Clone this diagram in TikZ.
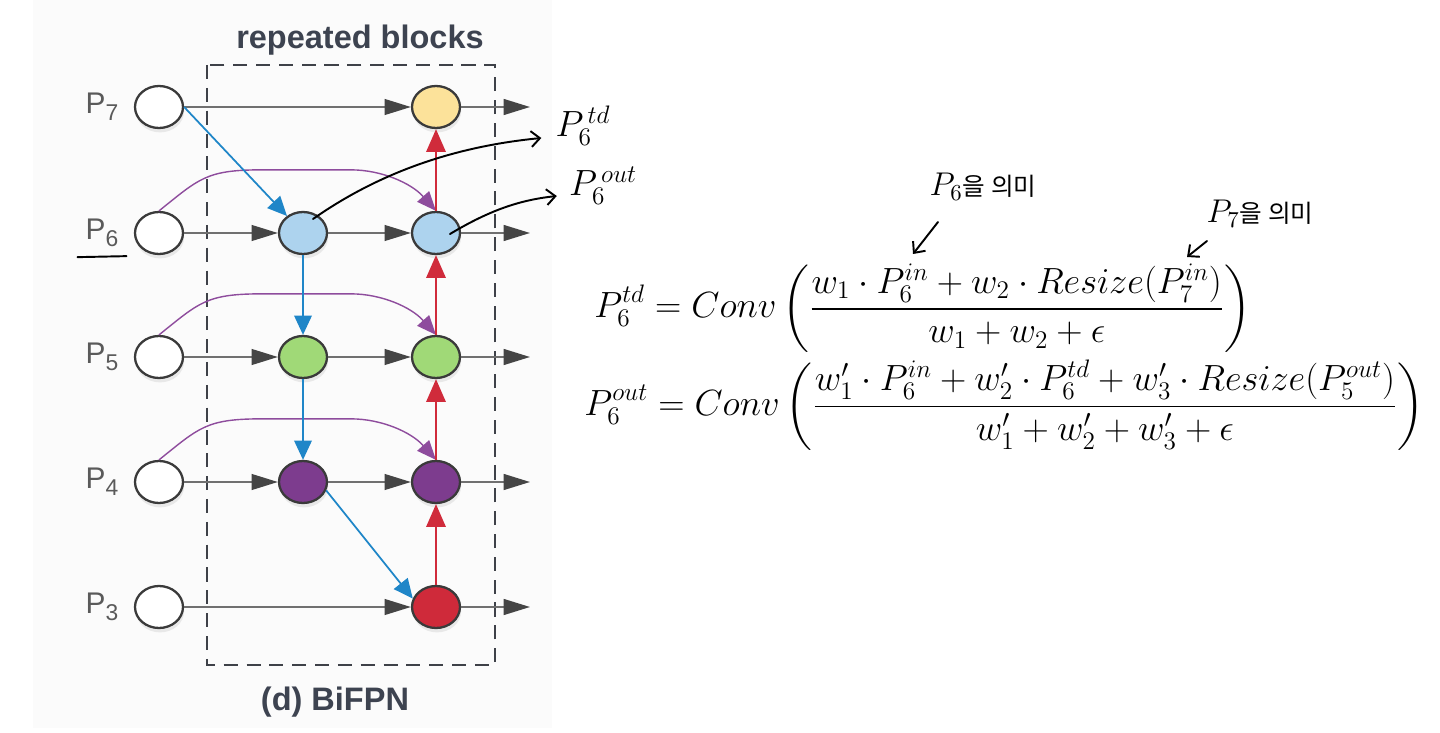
\documentclass[tikz,border=0pt]{standalone}
\usepackage[no-math]{fontspec}
\usepackage{amsmath}
\usetikzlibrary{arrows.meta, shadows, shapes.geometric, calc}
\newfontfamily\sansfont{Liberation Sans}
\newfontfamily\krfont{Noto Sans CJK KR}
\definecolor{panelbg}{HTML}{FBFBFB}
\definecolor{nodeborder}{HTML}{3A3A3A}
\definecolor{p7yellow}{HTML}{FCE29A}
\definecolor{p6blue}{HTML}{ADD3EE}
\definecolor{p5green}{HTML}{A0D977}
\definecolor{p4purple}{HTML}{7D3C8E}
\definecolor{p3red}{HTML}{CF2A3A}
\definecolor{flowgray}{HTML}{707070}
\definecolor{headgray}{HTML}{454545}
\definecolor{tdblue}{HTML}{1F86C8}
\definecolor{bured}{HTML}{D02B3B}
\definecolor{skippurple}{HTML}{8E4C9D}
\definecolor{boxgray}{HTML}{3E4148}
\definecolor{titlegray}{HTML}{3D4350}
\definecolor{labgray}{HTML}{5A5A5A}
\newcommand{\plevel}[1]{P\raisebox{-0.45ex}{\fontsize{13}{15}\selectfont #1}}
\newcommand{\handp}[1]{\scalebox{1.3}{$P_{#1}$}}
\tikzset{
  fpnode/.style={ellipse, draw=nodeborder, line width=1.3pt, minimum width=0.96cm, minimum height=0.84cm, inner sep=0pt,
    drop shadow={opacity=0.15, shadow xshift=0.6pt, shadow yshift=-2.5pt}},
  flow/.style={draw=flowgray, line width=1.1pt, -{Triangle[length=15pt, width=9pt, color=headgray]}},
  tdflow/.style={draw=tdblue, line width=1pt, -{Triangle[length=11pt, width=10pt]}},
  buflow/.style={draw=bured, line width=1.3pt, -{Triangle[length=13pt, width=11pt]}},
  skipflow/.style={draw=skippurple, line width=0.8pt, -{Triangle[length=11pt, width=9pt]}},
  hand/.style={black, line width=1.1pt, line cap=round, -{Straight Barb[length=5pt, width=9pt]}},
  plab/.style={font=\sansfont\fontsize{17}{20}\selectfont, text=labgray},
  heading/.style={font=\sansfont\bfseries\fontsize{18.5}{22}\selectfont, text=titlegray},
  korean/.style={font=\krfont\fontsize{14}{16}\selectfont, inner sep=0pt},
}

\begin{document}
\begin{tikzpicture}[x=0.02cm, y=-0.02cm]
  \useasboundingbox (0,0) rectangle (1440,733);
  \fill[white] (0,0) rectangle (1440,733);
  \fill[panelbg] (33,0) rectangle (552,728);

  % Bloque repetido
  \draw[boxgray, line width=1.6pt, dash pattern=on 8pt off 5pt] (207,65) rectangle (495,665);
  \node[heading] (title) at (360,40) {repeated blocks};
  \node[heading] (caption) at (335,702) {(d) BiFPN};

  % Niveles de entrada
  \foreach \lvl/\y in {7/107, 6/233, 5/357, 4/482, 3/607} {
    \node[plab] (l\lvl) at (102,\y) {\plevel{\lvl}};
    \node[fpnode, fill=white] (in\lvl) at (159,\y) {};
    \coordinate (e\lvl) at (530,\y);
  }

  % Columna intermedia (top-down)
  \node[fpnode, fill=p6blue] (m6) at (303,233) {};
  \node[fpnode, fill=p5green] (m5) at (303,357) {};
  \node[fpnode, fill=p4purple] (m4) at (303,482) {};

  % Columna de salida (bottom-up)
  \node[fpnode, fill=p7yellow] (o7) at (436,107) {};
  \node[fpnode, fill=p6blue] (o6) at (436,233) {};
  \node[fpnode, fill=p5green] (o5) at (436,357) {};
  \node[fpnode, fill=p4purple] (o4) at (436,482) {};
  \node[fpnode, fill=p3red] (o3) at (436,607) {};

  % Conexiones horizontales
  \draw[flow] (in7) -- (o7);
  \draw[flow] (in3) -- (o3);
  \foreach \lvl in {6,5,4} {
    \draw[flow] (in\lvl) -- (m\lvl);
    \draw[flow] (m\lvl) -- (o\lvl);
  }
  \foreach \lvl in {7,6,5,4,3}
    \draw[flow] (o\lvl) -- (e\lvl);

  % Conexiones de salto
  \foreach \lvl in {6,5,4}
    \draw[skipflow] (in\lvl.north) .. controls +(40,-32) and +(-55,0) .. ++(102,-41) -- ++(90,0)
      .. controls +(30,0) and +(-25,-28) .. (o\lvl.north);

  % Camino top-down
  \draw[tdflow] (in7.east) -- (m6);
  \draw[tdflow] (m6) -- (m5);
  \draw[tdflow] (m5) -- (m4);
  \draw[tdflow] (m4.-20) -- (o3.160);

  % Camino bottom-up
  \draw[buflow] (o3) -- (o4);
  \draw[buflow] (o4) -- (o5);
  \draw[buflow] (o5) -- (o6);
  \draw[buflow] (o6) -- (o7);

  % Notas a mano
  \draw[black, line width=1.1pt, line cap=round] ($(l6.south west)+(-2,4)$) -- ($(l6.south east)+(2,3)$);
  \node[font=\huge] (ptd) at (583,126) {$P_{6}^{\,td}$};
  \node[font=\huge] (pout) at (603,186) {$P_{6}^{\,out}$};
  \coordinate (s6td) at (313,219);
  \coordinate (s6out) at (450,234);
  \draw[hand] (s6td) .. controls (390,165) and (470,145) .. ($(ptd.west)+(-8,12)$);
  \draw[hand] (s6out) .. controls (490,210) and (520,200) .. ($(pout.west)+(-6,10)$);

  \node[korean] (k6) at (983,187) {\handp{6}을 의미};
  \node[korean] (k7) at (1260,214) {\handp{7}을 의미};
  \coordinate (k6a) at (938,222);
  \coordinate (k6b) at (913,254);
  \coordinate (k7a) at (1207,241);
  \coordinate (k7b) at (1187,257);
  \draw[hand] (k6a) -- (k6b);
  \draw[hand] (k7a) -- (k7b);

  % Ecuaciones
  \node[anchor=west, font=\huge, inner sep=0pt] (eqtd) at (594,308)
    {$\displaystyle P_6^{td} = Conv\left(\frac{w_1 \cdot P_6^{in} + w_2 \cdot Resize(P_7^{in})}{w_1 + w_2 + \epsilon}\right)$};
  \node[anchor=west, font=\huge, inner sep=0pt] (eqout) at (584,405)
    {$\displaystyle P_6^{out} = Conv\left(\frac{w'_1 \cdot P_6^{in} + w'_2 \cdot P_6^{td} + w'_3 \cdot Resize(P_5^{out})}{w'_1 + w'_2 + w'_3 + \epsilon}\right)$};
\end{tikzpicture}
\end{document}
